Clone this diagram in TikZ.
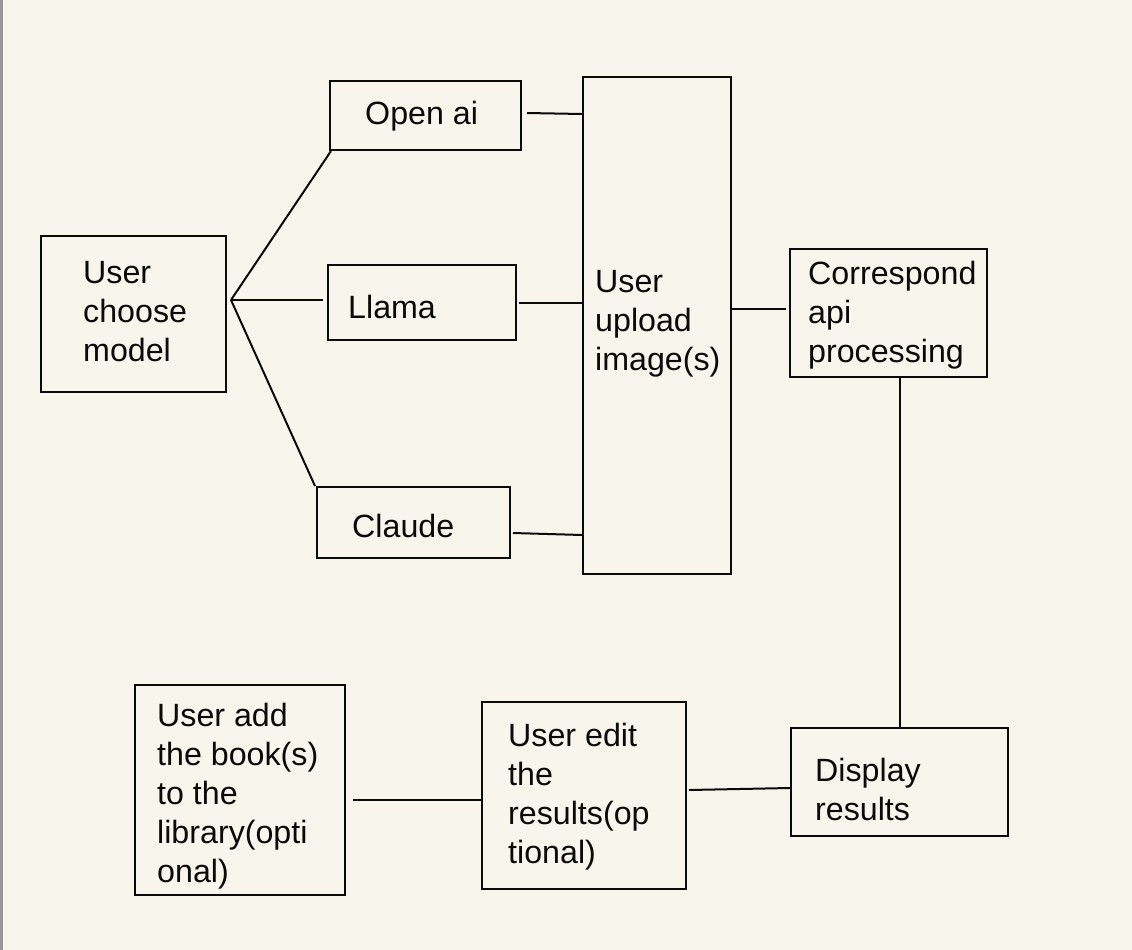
\documentclass[tikz,border=0pt]{standalone}
\usepackage{fontspec}
\setmainfont{Liberation Sans}
\definecolor{paper}{RGB}{248, 246, 236}
\definecolor{rim}{RGB}{150, 150, 150}
\definecolor{ink}{RGB}{10, 10, 10}

\begin{document}
\begin{tikzpicture}[x = 1pt, y = -1pt,
    flowbox/.style = {draw = ink, line width = 2pt, inner sep = 0pt},
    flowtext/.style = {font = \fontsize{32.2}{39}\selectfont, text = ink, align = left, anchor = west, inner sep = 0pt},
    wire/.style = {draw = ink, line width = 2pt}]
    \fill[paper] (0,0) rectangle (1132,950);
    \fill[rim] (0,0) rectangle (2.5,950);
    \useasboundingbox (0,0) rectangle (1132,950);

    \node[flowbox, minimum width = 185pt, minimum height = 156pt] (choose) at (133.5,314) {};
    \node[flowtext] (choosetext) at (83,312) {User\\choose\\model};

    \node[flowbox, minimum width = 191pt, minimum height = 69pt] (openai) at (425.5,115.5) {};
    \node[flowtext] (openaitext) at (365,116) {Open ai};

    \node[flowbox, minimum width = 188pt, minimum height = 75pt] (llama) at (422,302.5) {};
    \node[flowtext] (llamatext) at (348,306.5) {Llama};

    \node[flowbox, minimum width = 193pt, minimum height = 71pt] (claude) at (413.5,522.5) {};
    \node[flowtext] (claudetext) at (352,526) {Claude};

    \node[flowbox, minimum width = 148pt, minimum height = 497pt] (upload) at (657,325.5) {};
    \node[flowtext] (uploadtext) at (595,324) {User\\upload\\image(s)};

    \node[flowbox, minimum width = 197pt, minimum height = 128pt] (correspond) at (888.5,313) {};
    \node[flowtext] (correspondtext) at (808,315) {Correspond\\api\\processing};

    \node[flowbox, minimum width = 217pt, minimum height = 108pt] (display) at (899.5,782) {};
    \node[flowtext] (displaytext) at (815,789) {Display\\results};

    \node[flowbox, minimum width = 204pt, minimum height = 187pt] (edit) at (584,795.5) {};
    \node[flowtext] (edittext) at (508,797) {User edit\\the\\results(op\\tional)};

    \node[flowbox, minimum width = 210pt, minimum height = 210pt] (library) at (240,790) {};
    \node[flowtext] (librarytext) at (157,796) {User add\\the book(s)\\to the\\library(opti\\onal)};

    \coordinate (fan) at (231,300);
    \draw[wire] (fan) -- ([xshift = 2pt]openai.south west);
    \draw[wire, shorten > = 4pt] (fan) -- (fan -| llama.west);
    \draw[wire] (fan) -- ([xshift = -1pt]claude.north west);

    \draw[wire] ([xshift = 5pt, yshift = 2.5pt]openai.east) -- ([yshift = 1.5pt]openai.east -| upload.west);
    \draw[wire] ([xshift = 2pt]llama.east) -- (llama.east -| upload.west);
    \draw[wire] ([xshift = 2pt, yshift = -10.5pt]claude.east) -- ([yshift = -12.5pt]claude.east -| upload.west);
    \draw[wire] ([yshift = 4pt]correspond.west -| upload.east) -- ([xshift = -3pt, yshift = 4pt]correspond.west);
    \draw[wire] (display.north |- correspond.south) -- (display.north);
    \draw[wire] ([yshift = -6pt]display.west) -- ([xshift = 2pt, yshift = -8pt]display.west -| edit.east);
    \draw[wire] ([yshift = -4.5pt]edit.west) -- ([xshift = 7pt, yshift = -4.5pt]edit.west -| library.east);
\end{tikzpicture}
\end{document}
